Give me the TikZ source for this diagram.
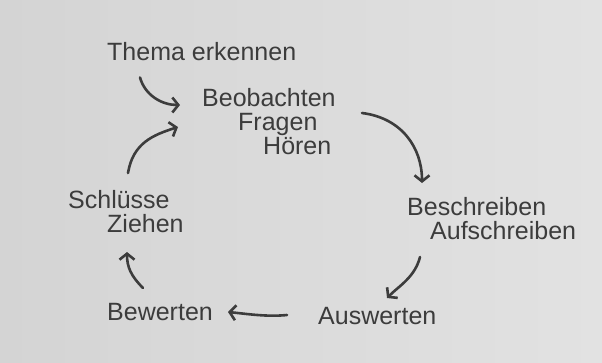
\documentclass[tikz,border=0pt]{standalone}
\usepackage{fontspec}
\setmainfont{Liberation Sans}
\usetikzlibrary{arrows.meta}
\definecolor{ink}{HTML}{3C3C3C}
\definecolor{paperl}{HTML}{D4D4D4}
\definecolor{paperr}{HTML}{E2E2E2}

\begin{document}
\begin{tikzpicture}[
            x=1pt, y=-1pt,
            every node/.style = {inner sep=0pt, align=left, text=ink, font=\fontsize{25}{24}\selectfont},
            pfeil/.style = {draw=ink, line width=2.6pt, line cap=round, -{Straight Barb[length=6pt, width=15pt]}}
        ]

        \shade[left color=paperl, right color=paperr] (0,0) rectangle (602,362);
        \useasboundingbox (0,0) rectangle (602,362);

        \node[anchor=base west] (thema) at (107,60) {Thema erkennen};
        \node[anchor=north west] (beob) at (202,88) {Beobachten\\\hspace*{36pt}Fragen\\\hspace*{61pt}Hören};
        \node[anchor=north west] (besch) at (407,197) {Beschreiben\\\hspace*{23pt}Aufschreiben};
        \node[anchor=base west] (ausw) at (318,324) {Auswerten};
        \node[anchor=base west] (bew) at (107,320) {Bewerten};
        \node[anchor=north west] (schl) at (68,190) {Schlüsse\\\hspace*{39pt}Ziehen};

        \draw[pfeil] ([shift={(33,17)}]thema.south west) .. controls +(5,18) and +(-18,0) .. ([shift={(-22,17)}]beob.north west);
        \draw[pfeil] ([shift={(160,25)}]beob.north west) .. controls +(40,5) and +(0,-35) .. ([shift={(15,-14)}]besch.north west);
        \draw[pfeil] ([shift={(13,60)}]besch.north west) .. controls +(-5,20) and +(12,-12) .. ([shift={(69,-26)}]ausw.base west);
        \draw[pfeil] ([shift={(-31,-9)}]ausw.base west) .. controls +(-20,2) and +(20,2) .. ([shift={(121,-8)}]bew.base west);
        \draw[pfeil] ([shift={(36,-32)}]bew.base west) .. controls +(-12,-12) and +(0,15) .. ([shift={(59,62)}]schl.north west);
        \draw[pfeil] ([shift={(60,-17)}]schl.north west) .. controls +(5,-30) and +(-25,8) .. ([shift={(-24,39)}]beob.north west);

\end{tikzpicture}
\end{document}
